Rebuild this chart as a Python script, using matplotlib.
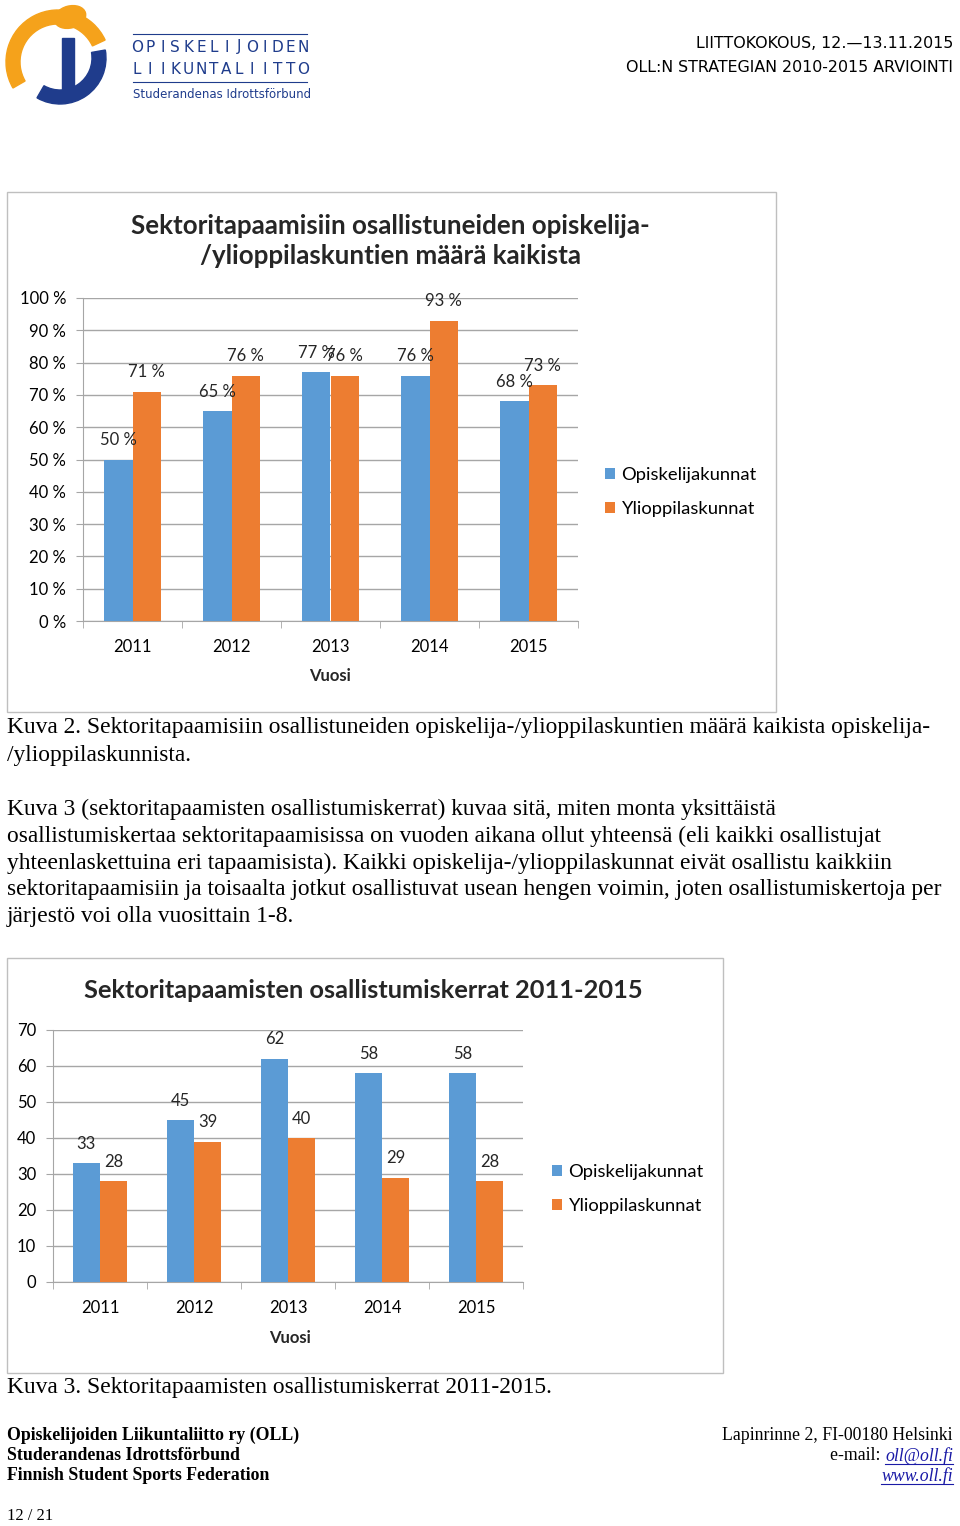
import numpy as np
import matplotlib.pyplot as plt
from matplotlib.patches import Rectangle, Ellipse, Wedge
from matplotlib.lines import Line2D

# data
years = ['2011', '2012', '2013', '2014', '2015']
series = ['Opiskelijakunnat', 'Ylioppilaskunnat']
share_opisk = [50, 65, 77, 76, 68]      # %
share_yliop = [71, 76, 76, 93, 73]      # %
times_opisk = [33, 45, 62, 58, 58]
times_yliop = [28, 39, 40, 29, 28]

BLUE = '#5B9BD5'
ORANGE = '#ED7D31'
GRID = '#a6a6a6'
LOGO_BLUE = '#1f3c8c'
LOGO_ORANGE = '#f5a21b'

W, H = 960, 1526
fig = plt.figure(figsize=(W / 100, H / 100), dpi=100)


def fx(x):
    return x / W


def fy(y):
    return 1 - y / H


def box(x0, y0, x1, y1):
    return [fx(x0), fy(y1), fx(x1) - fx(x0), fy(y0) - fy(y1)]


CHART_FONT = ['Lato', 'DejaVu Sans']
SERIF = ['Liberation Serif', 'DejaVu Serif']
HEAD = ['DejaVu Sans']

# ---- header: logo ----
lax = fig.add_axes(box(0, 0, 120, 110))
lax.set_xlim(0, 120)
lax.set_ylim(110, 0)
lax.axis('off')
lax.add_patch(Wedge((58, 62), 52, 150, 335, width=14, color=LOGO_ORANGE))
lax.add_patch(Wedge((60, 58), 46, -10, 120, width=14, color=LOGO_BLUE))
lax.add_patch(Rectangle((62, 38), 12, 60, color=LOGO_BLUE))
lax.add_patch(Ellipse((70, 17), 32, 22, angle=-15, color=LOGO_ORANGE))

fig.add_artist(Line2D([fx(133), fx(307)], [fy(34), fy(34)], color=LOGO_BLUE, lw=0.8))
fig.add_artist(Line2D([fx(133), fx(307)], [fy(82), fy(82)], color=LOGO_BLUE, lw=0.8))
for row, word in ((47, 'OPISKELIJOIDEN'), (70, 'LIIKUNTALIITTO')):
    for i, ch in enumerate(word):
        fig.text(fx(137 + i * 12.77), fy(row), ch, color=LOGO_BLUE, fontsize=11,
                 family=HEAD, ha='center', va='center')
fig.text(fx(133), fy(95), 'Studerandenas Idrottsförbund', color=LOGO_BLUE,
         fontsize=8.5, family=HEAD, va='center')

fig.text(fx(953), fy(44), 'LIITTOKOKOUS, 12.—13.11.2015', ha='right', va='center',
         fontsize=11.4, family=HEAD)
fig.text(fx(953), fy(67), 'OLL:N STRATEGIAN 2010-2015 ARVIOINTI', ha='right', va='center',
         fontsize=11.4, family=HEAD)


def bar_chart(frame, plot, values, ymax, step, fmt, title, title_xy, vuosi_xy, leg_xy,
              title_size):
    fig.add_artist(Rectangle((fx(frame[0]), fy(frame[3])), fx(frame[2]) - fx(frame[0]),
                             fy(frame[1]) - fy(frame[3]), transform=fig.transFigure,
                             fill=False, edgecolor='#bfbfbf', lw=1))
    ax = fig.add_axes(box(*plot))
    x = np.arange(len(years))
    w = 0.29
    b1 = ax.bar(x - w / 2, values[0], w, color=BLUE, label=series[0], zorder=3)
    b2 = ax.bar(x + w / 2, values[1], w, color=ORANGE, label=series[1], zorder=3)
    for bars, vals in ((b1, values[0]), (b2, values[1])):
        for r, v in zip(bars, vals):
            ax.annotate(fmt(v), (r.get_x() + r.get_width() / 2, v), xytext=(0, 14),
                        textcoords='offset points', ha='center', va='center',
                        fontsize=12, family=CHART_FONT, color='#262626', zorder=4)
    ax.set_xlim(-0.5, len(years) - 0.5)
    ax.set_ylim(0, ymax)
    ticks = np.arange(0, ymax + 1, step)
    ax.set_yticks(ticks)
    ax.set_yticklabels([fmt(t) for t in ticks], family=CHART_FONT, fontsize=12)
    ax.set_xticks(x)
    ax.set_xticklabels(years, family=CHART_FONT, fontsize=12)
    ax.set_xticks(np.arange(-0.5, len(years)), minor=True)
    ax.tick_params(axis='x', which='major', length=0, pad=13)
    ax.tick_params(axis='x', which='minor', length=5, color=GRID)
    ax.tick_params(axis='y', length=5, color=GRID, pad=7)
    ax.yaxis.grid(True, color=GRID, lw=1)
    ax.set_axisbelow(True)
    for s in ('top', 'right'):
        ax.spines[s].set_visible(False)
    for s in ('left', 'bottom'):
        ax.spines[s].set_color(GRID)
    fig.text(fx(title_xy[0]), fy(title_xy[1]), title, ha='center', va='center',
             fontsize=title_size, fontweight='bold', family=CHART_FONT,
             linespacing=1.3, color='#262626')
    fig.text(fx(vuosi_xy[0]), fy(vuosi_xy[1]), 'Vuosi', ha='center', va='center',
             fontsize=12, fontweight='bold', family=CHART_FONT, color='#262626')
    fig.legend(handles=[b1, b2], loc='upper left',
               bbox_to_anchor=(fx(leg_xy[0]), fy(leg_xy[1])), frameon=False,
               borderpad=0, borderaxespad=0, handlelength=0.55, handleheight=0.55,
               handletextpad=0.35, labelspacing=1.0,
               prop={'family': CHART_FONT, 'size': 13.2})
    return ax


bar_chart((7, 192, 776, 712), (83, 298, 578, 621), (share_opisk, share_yliop), 100, 10,
          lambda v: f'{int(v)} %',
          'Sektoritapaamisiin osallistuneiden opiskelija-\n/ylioppilaskuntien määrä kaikista',
          (390, 241), (330, 676), (605, 467), 18.6)

bar_chart((7, 958, 723, 1373), (53, 1030, 523, 1282), (times_opisk, times_yliop), 70, 10,
          lambda v: f'{int(v)}',
          'Sektoritapaamisten osallistumiskerrat 2011-2015',
          (363, 990), (290, 1338), (552, 1164), 18.3)

# ---- body text ----
BODY = 16.9
fig.text(fx(7), fy(728), 'Kuva 2. Sektoritapaamisiin osallistuneiden opiskelija-/ylioppilaskuntien määrä kaikista opiskelija-',
         fontsize=BODY, family=SERIF, va='center')
fig.text(fx(7), fy(755), '/ylioppilaskunnista.', fontsize=BODY, family=SERIF, va='center')
para = [
    'Kuva 3 (sektoritapaamisten osallistumiskerrat) kuvaa sitä, miten monta yksittäistä',
    'osallistumiskertaa sektoritapaamisissa on vuoden aikana ollut yhteensä (eli kaikki osallistujat',
    'yhteenlaskettuina eri tapaamisista). Kaikki opiskelija-/ylioppilaskunnat eivät osallistu kaikkiin',
    'sektoritapaamisiin ja toisaalta jotkut osallistuvat usean hengen voimin, joten osallistumiskertoja per',
    'järjestö voi olla vuosittain 1-8.',
]
for i, line in enumerate(para):
    fig.text(fx(7), fy(809 + 27 * i), line, fontsize=BODY, family=SERIF, va='center')
fig.text(fx(7), fy(1388), 'Kuva 3. Sektoritapaamisten osallistumiskerrat 2011-2015.',
         fontsize=BODY, family=SERIF, va='center')

# ---- footer ----
FOOT = 12.8
for i, line in enumerate(['Opiskelijoiden Liikuntaliitto ry (OLL)', 'Studerandenas Idrottsförbund',
                          'Finnish Student Sports Federation']):
    fig.text(fx(7), fy(1435 + 20.5 * i), line, fontsize=FOOT, family=SERIF,
             fontweight='bold', va='center')
fig.text(fx(953), fy(1435), 'Lapinrinne 2, FI-00180 Helsinki', fontsize=FOOT, family=SERIF,
         ha='right', va='center')
renderer = fig.canvas.get_renderer()
LINK = '#1a1aa6'
mail = fig.text(fx(953), fy(1456), 'oll@oll.fi', fontsize=FOOT, family=SERIF, style='italic',
                color=LINK, ha='right', va='center')
web = fig.text(fx(953), fy(1476), 'www.oll.fi', fontsize=FOOT, family=SERIF, style='italic',
               color=LINK, ha='right', va='center')
for t, yy in ((mail, 1456), (web, 1476)):
    bb = t.get_window_extent(renderer)
    fig.add_artist(Line2D([bb.x0 / W, bb.x1 / W], [fy(yy + 8), fy(yy + 8)], color=LINK, lw=0.8))
bb = mail.get_window_extent(renderer)
fig.text(bb.x0 / W, fy(1456), 'e-mail: ', fontsize=FOOT, family=SERIF, ha='right', va='center')

fig.text(fx(7), fy(1516), '12 / 21', fontsize=12, family=SERIF, va='center')

fig.savefig('out.png', dpi=100)
